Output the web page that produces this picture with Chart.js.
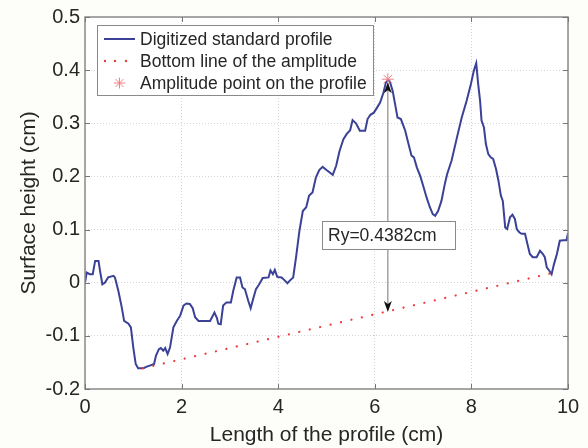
<!DOCTYPE html>
<html>
<head>
<meta charset="utf-8">
<script src="https://cdn.jsdelivr.net/npm/chart.js@4.4.1/dist/chart.umd.min.js"></script>
<style>
  html, body { margin: 0; padding: 0; background: #fdfdf9; }
  #wrap { width: 588px; height: 448px; position: relative; }
</style>
</head>
<body>
<div id="wrap"><canvas id="c" width="588" height="448"></canvas></div>
<script>
// ---- data ----
const profileX = [0.00,0.035,0.10,0.16,0.21,0.28,0.31,0.36,0.41,0.48,0.59,0.62,0.69,0.76,0.81,0.90,0.95,1.00,1.05,1.10,1.21,1.28,1.37,1.43,1.47,1.53,1.57,1.62,1.66,1.71,1.76,1.83,1.90,1.97,2.04,2.10,2.17,2.23,2.28,2.35,2.59,2.68,2.73,2.76,2.81,2.86,2.93,3.02,3.07,3.14,3.21,3.26,3.31,3.38,3.43,3.48,3.54,3.60,3.68,3.80,3.84,3.89,3.93,3.98,4.07,4.14,4.19,4.24,4.31,4.37,4.44,4.51,4.58,4.64,4.71,4.78,4.85,4.92,5.00,5.13,5.20,5.27,5.35,5.42,5.49,5.54,5.61,5.69,5.80,5.85,5.91,5.98,6.05,6.11,6.18,6.23,6.27,6.31,6.37,6.42,6.47,6.54,6.63,6.69,6.76,6.81,6.87,6.94,7.00,7.07,7.14,7.20,7.25,7.31,7.38,7.45,7.50,7.59,7.70,7.80,7.90,7.99,8.05,8.10,8.14,8.18,8.21,8.26,8.30,8.35,8.40,8.45,8.51,8.56,8.61,8.65,8.70,8.74,8.80,8.85,8.90,8.94,8.99,9.04,9.11,9.16,9.21,9.27,9.35,9.42,9.48,9.52,9.56,9.61,9.66,9.71,9.77,9.83,9.90,9.97,10.00];
const profileY = [0.000,0.019,0.016,0.016,0.041,0.041,0.023,-0.003,0.000,0.010,0.013,0.010,-0.015,-0.046,-0.072,-0.077,-0.084,-0.122,-0.153,-0.161,-0.161,-0.158,-0.155,-0.153,-0.137,-0.125,-0.123,-0.128,-0.123,-0.134,-0.122,-0.084,-0.072,-0.062,-0.043,-0.039,-0.040,-0.048,-0.065,-0.072,-0.072,-0.056,-0.066,-0.077,-0.078,-0.043,-0.037,-0.037,-0.015,0.010,0.010,-0.009,-0.012,-0.034,-0.048,-0.031,-0.012,-0.004,0.009,0.010,0.023,0.016,0.024,0.011,0.010,0.004,-0.001,0.004,0.010,0.048,0.098,0.135,0.142,0.164,0.170,0.198,0.212,0.218,0.212,0.203,0.220,0.248,0.270,0.280,0.287,0.306,0.300,0.286,0.286,0.308,0.316,0.320,0.330,0.339,0.358,0.377,0.382,0.379,0.361,0.336,0.311,0.308,0.286,0.264,0.239,0.236,0.217,0.201,0.183,0.161,0.142,0.129,0.126,0.135,0.154,0.186,0.205,0.230,0.273,0.311,0.342,0.374,0.399,0.413,0.374,0.342,0.305,0.292,0.261,0.242,0.236,0.233,0.214,0.192,0.164,0.154,0.104,0.101,0.123,0.128,0.120,0.101,0.095,0.092,0.092,0.073,0.054,0.048,0.048,0.060,0.054,0.048,0.029,0.023,0.016,0.035,0.054,0.079,0.080,0.080,0.093];
const bottomLineX = [1.20, 9.66];
const bottomLineY = [-0.161, 0.018];
const amplitudeX = [6.27];
const amplitudeY = [0.383];
const amplitudeBottomY = -0.055;
const ryLabel = 'Ry=0.4382cm';
const seriesLabels = ['Digitized standard profile', 'Bottom line of the amplitude', 'Amplitude point on the profile'];
const xTicks = [0, 2, 4, 6, 8, 10];
const yTicks = [-0.2, -0.1, 0, 0.1, 0.2, 0.3, 0.4, 0.5];
const xTitle = 'Length of the profile (cm)';
const yTitle = 'Surface height (cm)';

const FONT = '"Liberation Sans", Arial, sans-serif';
const BLUE = '#3b4196';
const RED = '#ee3b3b';
const TXT = '#262626';

function pts(xs, ys) { return xs.map((x, i) => ({ x: x, y: ys[i] })); }

const decor = {
  id: 'decor',
  beforeDraw(chart) {
    const ctx = chart.ctx;
    ctx.save();
    ctx.fillStyle = '#fdfdf9';
    ctx.fillRect(0, 0, chart.width, chart.height);
    const a = chart.chartArea;
    ctx.fillStyle = '#ffffff';
    ctx.fillRect(a.left, a.top, a.right - a.left, a.bottom - a.top);
    ctx.restore();
  },
  afterDatasetsDraw(chart) {
    const ctx = chart.ctx;
    const a = chart.chartArea;
    const xs = chart.scales.x, ys = chart.scales.y;
    ctx.save();
    ctx.strokeStyle = '#8a8a8a';
    ctx.lineWidth = 1.5;
    ctx.strokeRect(a.left, a.top, a.right - a.left, a.bottom - a.top);
    ctx.lineWidth = 1;
    ctx.strokeStyle = '#777';
    xTicks.forEach(v => {
      const px = Math.round(xs.getPixelForValue(v)) + 0.5;
      ctx.beginPath(); ctx.moveTo(px, a.bottom); ctx.lineTo(px, a.bottom - 5); ctx.stroke();
      ctx.beginPath(); ctx.moveTo(px, a.top); ctx.lineTo(px, a.top + 5); ctx.stroke();
    });
    yTicks.forEach(v => {
      const py = Math.round(ys.getPixelForValue(v)) + 0.5;
      ctx.beginPath(); ctx.moveTo(a.left, py); ctx.lineTo(a.left + 5, py); ctx.stroke();
      ctx.beginPath(); ctx.moveTo(a.right, py); ctx.lineTo(a.right - 5, py); ctx.stroke();
    });
    // double arrow
    const ax = xs.getPixelForValue(amplitudeX[0]);
    const yTop = ys.getPixelForValue(amplitudeY[0]) + 3;
    const yBot = ys.getPixelForValue(amplitudeBottomY);
    ctx.strokeStyle = '#8c8c8c';
    ctx.lineWidth = 1.2;
    ctx.beginPath(); ctx.moveTo(ax, yTop + 8); ctx.lineTo(ax, yBot - 8); ctx.stroke();
    ctx.fillStyle = '#111';
    ctx.beginPath(); ctx.moveTo(ax, yTop); ctx.lineTo(ax - 4, yTop + 11); ctx.lineTo(ax, yTop + 8); ctx.lineTo(ax + 4, yTop + 11); ctx.closePath(); ctx.fill();
    ctx.beginPath(); ctx.moveTo(ax, yBot); ctx.lineTo(ax - 4, yBot - 11); ctx.lineTo(ax, yBot - 8); ctx.lineTo(ax + 4, yBot - 11); ctx.closePath(); ctx.fill();
    // text box
    const bx = 322, by = 221, bw = 133, bh = 28;
    ctx.fillStyle = '#ffffff';
    ctx.fillRect(bx, by, bw, bh);
    ctx.strokeStyle = '#8a8a8a';
    ctx.lineWidth = 1;
    ctx.strokeRect(bx + 0.5, by + 0.5, bw, bh);
    ctx.fillStyle = TXT;
    ctx.font = '17.5px ' + FONT;
    ctx.textBaseline = 'middle';
    ctx.textAlign = 'left';
    ctx.fillText(ryLabel, bx + 6, by + bh / 2 + 1);
    // legend
    const lx = 97, ly = 25, lw = 276, lh = 70;
    ctx.fillStyle = '#ffffff';
    ctx.fillRect(lx, ly, lw, lh);
    ctx.strokeStyle = '#8a8a8a';
    ctx.strokeRect(lx + 0.5, ly + 0.5, lw, lh);
    ctx.font = '17.5px ' + FONT;
    const rows = [39, 61, 83];
    chart.data.datasets.forEach((ds, i) => {
      const ry = rows[i];
      if (i === 0) {
        ctx.strokeStyle = BLUE; ctx.lineWidth = 2;
        ctx.beginPath(); ctx.moveTo(104, ry); ctx.lineTo(135, ry); ctx.stroke();
      } else if (i === 1) {
        ctx.fillStyle = RED;
        [105, 115, 126].forEach(px => { ctx.beginPath(); ctx.arc(px, ry, 1.2, 0, Math.PI * 2); ctx.fill(); });
      } else {
        ctx.strokeStyle = '#f08080'; ctx.lineWidth = 1;
        const cx = 119.5, r = 5.5;
        for (let k = 0; k < 4; k++) {
          const ang = k * Math.PI / 4;
          ctx.beginPath(); ctx.moveTo(cx - r * Math.cos(ang), ry - r * Math.sin(ang)); ctx.lineTo(cx + r * Math.cos(ang), ry + r * Math.sin(ang)); ctx.stroke();
        }
      }
      ctx.fillStyle = TXT;
      ctx.fillText(ds.label, 140, ry + 1);
    });
    ctx.restore();
  }
};

new Chart(document.getElementById('c'), {
  type: 'scatter',
  data: {
    datasets: [
      { label: seriesLabels[0], data: pts(profileX, profileY), showLine: true, borderColor: BLUE, borderWidth: 2, pointRadius: 0, tension: 0, order: 3 },
      { label: seriesLabels[1], data: pts(bottomLineX, bottomLineY), showLine: true, borderColor: RED, borderWidth: 2.2, borderDash: [0.1, 10.6], borderCapStyle: 'round', pointRadius: 0, order: 2 },
      { label: seriesLabels[2], data: pts(amplitudeX, amplitudeY), showLine: false, pointStyle: 'star', pointRadius: 6, borderColor: '#f08080', borderWidth: 1, backgroundColor: 'transparent', order: 1 }
    ]
  },
  options: {
    responsive: false,
    animation: false,
    layout: { padding: { top: 17, right: 20, left: 0, bottom: 0 } },
    plugins: { legend: { display: false }, tooltip: { enabled: false } },
    scales: {
      x: {
        type: 'linear', min: 0, max: 10,
        afterBuildTicks: s => { s.ticks = xTicks.map(v => ({ value: v })); },
        afterFit: s => { s.height = 59; },
        grid: { color: '#d4d4d4', lineWidth: 1, drawTicks: false },
        border: { display: false, dash: [1, 2] },
        ticks: { color: TXT, font: { family: FONT, size: 20 }, padding: 6, maxRotation: 0 },
        title: { display: true, text: xTitle, color: TXT, font: { family: FONT, size: 21 }, padding: { top: 0, bottom: 0 } }
      },
      y: {
        type: 'linear', min: -0.2, max: 0.5,
        afterBuildTicks: s => { s.ticks = yTicks.map(v => ({ value: v })); },
        afterFit: s => { s.width = 85; },
        grid: { color: '#d4d4d4', lineWidth: 1, drawTicks: false },
        border: { display: false, dash: [1, 2] },
        ticks: { color: TXT, font: { family: FONT, size: 20 }, padding: 5, callback: v => (Math.abs(v) < 1e-9 ? '0' : String(Math.round(v * 10) / 10)) },
        title: { display: true, text: yTitle, color: TXT, font: { family: FONT, size: 21 }, padding: { top: 17, bottom: 0 } }
      }
    }
  },
  plugins: [decor]
});
</script>
</body>
</html>
